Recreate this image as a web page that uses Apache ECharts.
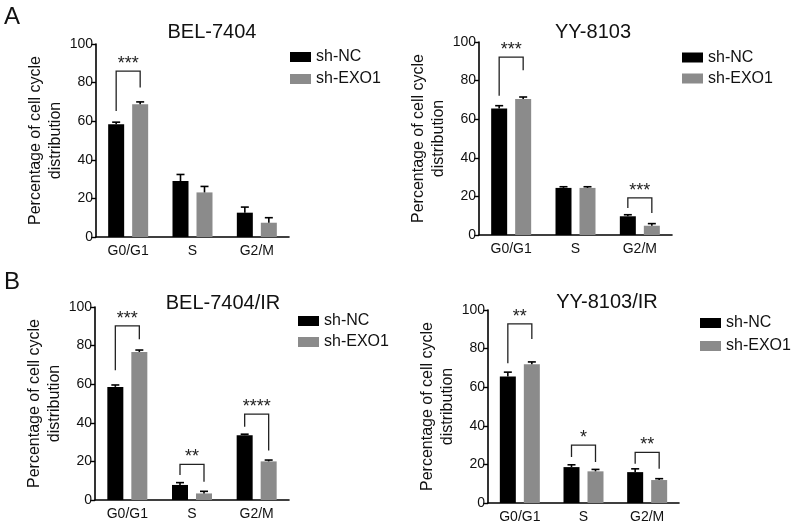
<!DOCTYPE html>
<html>
<head>
<meta charset="utf-8">
<script src="https://cdn.jsdelivr.net/npm/echarts@6/dist/echarts.min.js"></script>
<style>html,body{margin:0;padding:0;background:#fff}#chart{width:800px;height:529px}</style>
</head>
<body>
<div id="chart"></div>
<script>
// ---------- DATA ----------
const categories = ['G0/G1', 'S', 'G2/M'];
const seriesNames = ['sh-NC', 'sh-EXO1'];
const panelTitles = ['BEL-7404', 'YY-8103', 'BEL-7404/IR', 'YY-8103/IR'];
const panelLetters = ['A', 'B'];
const yAxisName = 'Percentage of cell cycle\ndistribution';
const yMin = 0, yMax = 100, yInterval = 20;

// BEL-7404
const bel_nc = [58.4, 29.0, 12.6];
const bel_nc_err = [1.1, 3.4, 2.9];
const bel_exo = [68.8, 23.1, 7.4];
const bel_exo_err = [1.2, 3.1, 2.6];
const bel_brackets = [[0, 85.9, 65.3, 77.4]];   // [category, bracket level, left leg end, right leg end]
const bel_stars = ['***'];

// YY-8103
const yy_nc = [65.6, 24.4, 9.7];
const yy_nc_err = [1.4, 0.6, 0.8];
const yy_exo = [70.5, 24.4, 4.8];
const yy_exo_err = [1.0, 0.6, 1.1];
const yy_brackets = [[0, 92.2, 72.2, 85.3], [2, 19.2, 14.0, 11.4]];
const yy_stars = ['***', '***'];

// BEL-7404/IR
const belir_nc = [58.6, 7.8, 33.6];
const belir_nc_err = [1.0, 1.2, 0.5];
const belir_exo = [76.7, 3.4, 20.0];
const belir_exo_err = [1.0, 1.1, 0.7];
const belir_brackets = [[0, 90.2, 67.2, 83.3], [1, 18.5, 12.9, 9.5], [2, 44.5, 37.9, 25.7]];
const belir_stars = ['***', '**', '****'];

// YY-8103/IR
const yyir_nc = [65.5, 18.6, 16.0];
const yyir_nc_err = [2.3, 1.2, 1.7];
const yyir_exo = [71.9, 16.4, 11.9];
const yyir_exo_err = [1.2, 1.0, 0.7];
const yyir_brackets = [[0, 92.8, 72.4, 85.0], [1, 30.0, 23.8, 21.2], [2, 26.2, 20.3, 17.7]];
const yyir_stars = ['**', '*', '**'];

// ---------- LAYOUT / STYLE ----------
const FONT = "'Liberation Sans', Arial, Helvetica, sans-serif";
const TXT = '#111';
const COLORS = ['#000000', '#8b8b8b'];
const BAR_W = 16, HALF = 12;

const panels = [
  { nc: bel_nc, ncErr: bel_nc_err, exo: bel_exo, exoErr: bel_exo_err, br: bel_brackets, stars: bel_stars,
    grid: {left: 96, top: 44, width: 193, height: 193}, title: [212, 32], legend: {left: 290, top: 49, gap: 6} },
  { nc: yy_nc, ncErr: yy_nc_err, exo: yy_exo, exoErr: yy_exo_err, br: yy_brackets, stars: yy_stars,
    grid: {left: 479, top: 42, width: 193, height: 193}, title: [593, 32], legend: {left: 682, top: 49.5, gap: 5} },
  { nc: belir_nc, ncErr: belir_nc_err, exo: belir_exo, exoErr: belir_exo_err, br: belir_brackets, stars: belir_stars,
    grid: {left: 95, top: 307, width: 194, height: 193}, title: [223, 303], legend: {left: 298, top: 313, gap: 5} },
  { nc: yyir_nc, ncErr: yyir_nc_err, exo: yyir_exo, exoErr: yyir_exo_err, br: yyir_brackets, stars: yyir_stars,
    grid: {left: 488, top: 310, width: 191, height: 193}, title: [607, 302], legend: {left: 700, top: 315, gap: 7} }
];
const letterPos = [[12, 17], [12, 282]];

function errRender(offset) {
  return function (params, api) {
    const c = api.value(0), m = api.value(1), e = api.value(2);
    const p0 = api.coord([c, m]);
    const p1 = api.coord([c, m + e]);
    const x = p0[0] + offset;
    const st = {stroke: '#000', lineWidth: 1.6};
    return {type: 'group', children: [
      {type: 'line', shape: {x1: x, y1: p0[1], x2: x, y2: p1[1]}, style: st},
      {type: 'line', shape: {x1: x - 4, y1: p1[1], x2: x + 4, y2: p1[1]}, style: st}
    ]};
  };
}

function bracketRender(stars) {
  return function (params, api) {
    const c = api.value(0);
    const top = api.coord([c, api.value(1)]);
    const l = api.coord([c, api.value(2)]);
    const r = api.coord([c, api.value(3)]);
    const xl = top[0] - HALF, xr = top[0] + HALF;
    return {type: 'group', children: [
      {type: 'polyline', shape: {points: [[xl, l[1]], [xl, top[1]], [xr, top[1]], [xr, r[1]]]},
       style: {stroke: '#222', lineWidth: 1.3, fill: null}},
      {type: 'text', x: top[0], y: top[1] + 2,
       style: {text: stars[params.dataIndex], fill: '#222', fontSize: 18, fontFamily: FONT,
               align: 'center', verticalAlign: 'bottom', textAlign: 'center', textVerticalAlign: 'bottom'}}
    ]};
  };
}

const grid = [], xAxis = [], yAxis = [], series = [], legend = [], graphic = [];
panels.forEach((p, i) => {
  grid.push(Object.assign({containLabel: false}, p.grid));
  xAxis.push({
    type: 'category', gridIndex: i, data: categories,
    axisLine: {lineStyle: {color: '#000', width: 1.6}},
    axisTick: {alignWithLabel: true, length: 4, lineStyle: {color: '#000', width: 1.4}},
    axisLabel: {color: TXT, fontSize: 14, fontFamily: FONT, margin: 7}
  });
  yAxis.push({
    type: 'value', gridIndex: i, min: yMin, max: yMax, interval: yInterval,
    name: yAxisName, nameLocation: 'middle', nameRotate: 90, nameGap: 29,
    nameTextStyle: {color: TXT, fontSize: 16, fontFamily: FONT, lineHeight: 20},
    axisLine: {show: true, lineStyle: {color: '#000', width: 1.6}},
    axisTick: {show: true, length: 5, lineStyle: {color: '#000', width: 1.4}},
    axisLabel: {color: TXT, fontSize: 14, fontFamily: FONT, margin: 3},
    splitLine: {show: false}
  });
  series.push({
    name: seriesNames[0], type: 'bar', xAxisIndex: i, yAxisIndex: i, data: p.nc,
    barWidth: BAR_W, barGap: '50%', itemStyle: {color: COLORS[0]}, z: 2, silent: true
  });
  series.push({
    name: seriesNames[1], type: 'bar', xAxisIndex: i, yAxisIndex: i, data: p.exo,
    barWidth: BAR_W, barGap: '50%', itemStyle: {color: COLORS[1]}, z: 2, silent: true
  });
  series.push({
    type: 'custom', xAxisIndex: i, yAxisIndex: i, z: 3, silent: true,
    data: p.nc.map((v, k) => [k, v, p.ncErr[k]]), renderItem: errRender(-HALF)
  });
  series.push({
    type: 'custom', xAxisIndex: i, yAxisIndex: i, z: 3, silent: true,
    data: p.exo.map((v, k) => [k, v, p.exoErr[k]]), renderItem: errRender(HALF)
  });
  series.push({
    type: 'custom', xAxisIndex: i, yAxisIndex: i, z: 4, silent: true,
    data: p.br, renderItem: bracketRender(p.stars)
  });
  legend.push({
    orient: 'vertical', left: p.legend.left, top: p.legend.top, padding: 0,
    itemGap: p.legend.gap, itemWidth: 21, itemHeight: 10, itemTextGap: 10, icon: 'rect',
    selectedMode: false, data: seriesNames,
    textStyle: {color: TXT, fontSize: 16, fontFamily: FONT}
  });
  graphic.push({
    type: 'text', x: p.title[0], y: p.title[1], silent: true,
    style: {text: panelTitles[i], fill: TXT, fontSize: 20, fontFamily: FONT,
            align: 'center', verticalAlign: 'middle', textAlign: 'center', textVerticalAlign: 'middle'}
  });
});
panelLetters.forEach((t, i) => {
  graphic.push({
    type: 'text', x: letterPos[i][0], y: letterPos[i][1], silent: true,
    style: {text: t, fill: TXT, fontSize: 24, fontFamily: FONT,
            align: 'center', verticalAlign: 'middle', textAlign: 'center', textVerticalAlign: 'middle'}
  });
});

const chart = echarts.init(document.getElementById('chart'), null, {renderer: 'canvas'});
chart.setOption({
  animation: false, backgroundColor: '#ffffff',
  grid, xAxis, yAxis, series, legend, graphic
});
</script>
</body>
</html>
